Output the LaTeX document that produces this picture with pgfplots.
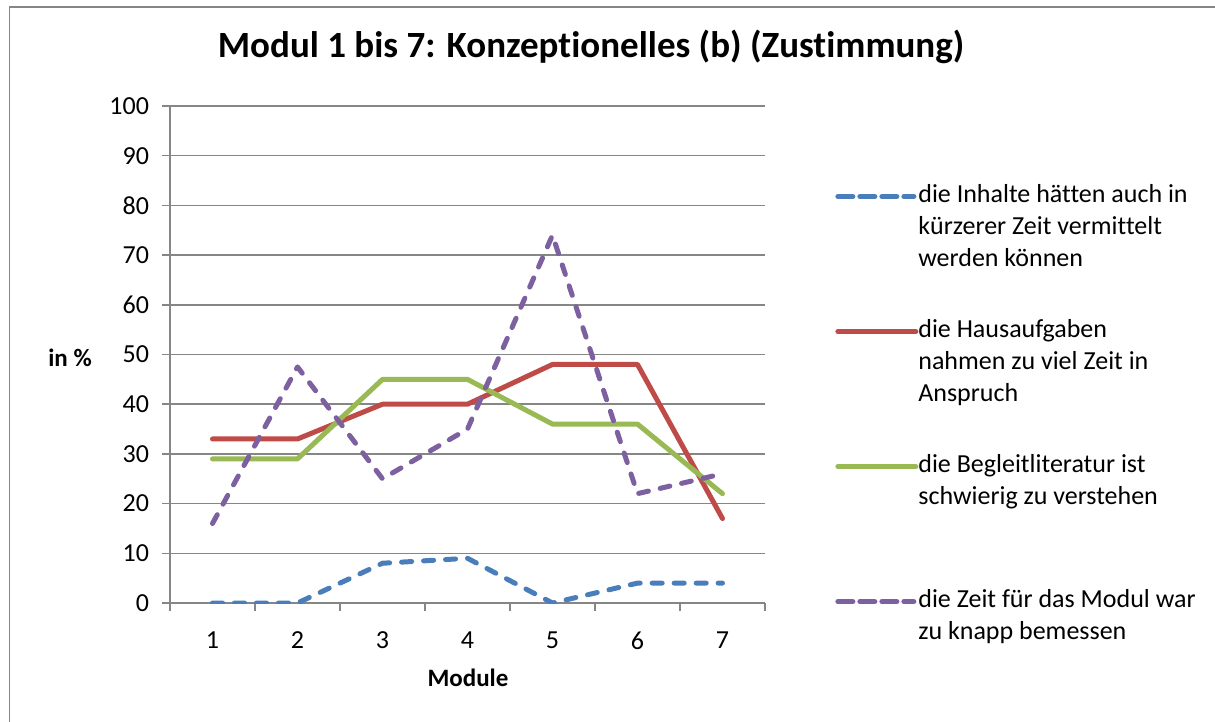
\documentclass[border=0pt]{standalone}
\usepackage{pgfplots}
\pgfplotsset{compat=1.18}
\usepackage{fontspec}
\setmainfont{Carlito}[Ligatures=NoCommon]
\definecolor{cblue}{RGB}{74,126,187}
\definecolor{cred}{RGB}{190,75,72}
\definecolor{cgreen}{RGB}{152,185,84}
\definecolor{cpurple}{RGB}{125,96,160}
\definecolor{axgray}{RGB}{134,134,134}
\newcommand{\legtext}[1]{\parbox[t]{150pt}{\raggedright #1}}
\begin{document}
\begin{tikzpicture}
\useasboundingbox (0,0) rectangle (607.5pt,-361pt);
\draw[axgray, line width=0.75pt] (4.75pt,-362pt) -- (4.75pt,-3.5pt) -- (608pt,-3.5pt);
\begin{axis}[
  at={(85pt,-301.5pt)}, anchor=south west,
  scale only axis, width=297.5pt, height=248.5pt,
  xmin=0.5, xmax=7.5, ymin=0, ymax=100,
  axis x line*=bottom, axis y line*=left,
  axis line style={-, axgray, line width=0.75pt},
  ytick={0,10,...,100},
  xtick={0.5,1.5,...,7.5},
  xticklabels={1,2,3,4,5,6,7,{}},
  xticklabel style={xshift=21.25pt, yshift=-7pt},
  yticklabel style={xshift=-3pt},
  ymajorgrids, grid style={axgray, line width=0.75pt},
  tick align=outside, major tick length=4pt,
  tick style={axgray, line width=0.75pt},
  ticklabel style={font=\fontsize{13}{15}\selectfont, text=black},
  /pgf/number format/assume math mode=true,
  title={\textbf{Modul 1 bis 7: Konzeptionelles (b) (Zustimmung)}},
  title style={font=\fontsize{18.5}{22}\selectfont, at={(axis description cs:0.7076,1.095)}, anchor=center},
  xlabel={\textbf{Module}},
  xlabel style={font=\fontsize{12.5}{15}\selectfont, at={(axis description cs:0.5008,-0.151)}, anchor=center},
  ylabel={\textbf{in \%}},
  ylabel style={font=\fontsize{12.5}{15}\selectfont, rotate=-90, at={(axis description cs:-0.168,0.493)}, anchor=center},
  legend style={at={(axis description cs:1.1176,0.843)}, anchor=north west, draw=none, fill=none,
    inner sep=0pt, row sep=57pt, column sep=0pt,
    font=\fontsize{13}{16}\selectfont,
    nodes={inner sep=0pt, anchor=base west}},
  legend cell align=left,
  legend image code/.code={\draw[#1] (2.5pt,0.3em) -- (35pt,0.3em); \path (0pt,0.3em) -- (39pt,0.3em);},
  every axis plot/.append style={line width=2.5pt, line join=round},
]
\addplot[cblue, line cap=round, dash pattern=on 5pt off 6pt] coordinates {(1,0)(2,0)(3,8)(4,9)(5,0)(6,4)(7,4)};
\addlegendentry{\legtext{die Inhalte hätten auch in\\kürzerer Zeit vermittelt\\werden können}}
\addplot[cred, line cap=round] coordinates {(1,33)(2,33)(3,40)(4,40)(5,48)(6,48)(7,17)};
\addlegendentry{\legtext{die Hausaufgaben\\nahmen zu viel Zeit in\\Anspruch}}
\addplot[cgreen, line cap=round] coordinates {(1,29)(2,29)(3,45)(4,45)(5,36)(6,36)(7,22)};
\addlegendentry{\legtext{die Begleitliteratur ist\\schwierig zu verstehen}}
\addplot[cpurple, line cap=round, dash pattern=on 5pt off 6pt] coordinates {(1,16)(2,47.5)(3,25)(4,35)(5,74)(6,22)(7,26)};
\addlegendentry{\legtext{die Zeit für das Modul war\\zu knapp bemessen}}
\end{axis}
\end{tikzpicture}
\end{document}
